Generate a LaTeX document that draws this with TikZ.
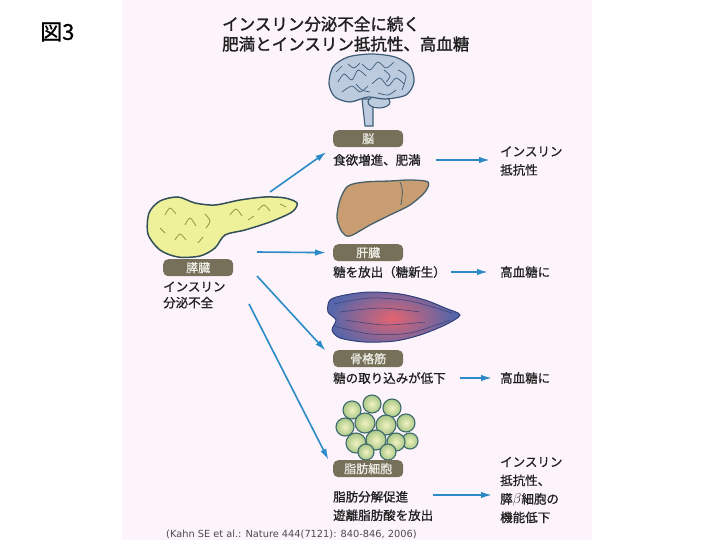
\documentclass[tikz,border=0pt]{standalone}
\usepackage{fontspec}
\setmainfont{Noto Sans CJK JP}
\newfontfamily\jpmed{Noto Sans CJK JP}[FakeBold=0.8]
\newfontfamily\jpbold{Noto Sans CJK JP}[FakeBold=1.6]
\newfontfamily\citefont{DejaVu Sans}
\usetikzlibrary{arrows.meta}
\definecolor{bgpink}{HTML}{FCF4FA}
\definecolor{boxgray}{HTML}{76705A}
\definecolor{boxtext}{HTML}{EEEEE6}
\definecolor{arrblue}{HTML}{2C8BC6}
\definecolor{ink}{HTML}{202020}
\definecolor{brainfill}{HTML}{BCCBDD}
\definecolor{brainline}{HTML}{3E5C7A}
\definecolor{pancfill}{HTML}{EEF09A}
\definecolor{pancline}{HTML}{33505A}
\definecolor{panctex}{HTML}{8E9A3A}
\definecolor{liverfill}{HTML}{C99D72}
\definecolor{liverline}{HTML}{46606A}
\definecolor{mblue}{HTML}{5566AA}
\definecolor{mred}{HTML}{E46470}
\definecolor{mline}{HTML}{33407A}
\definecolor{fatfill}{HTML}{A9C888}
\definecolor{fatlight}{HTML}{F2F2C0}
\definecolor{fatline}{HTML}{3E6A6E}
\begin{document}
\begin{tikzpicture}[x=1pt,y=-1pt,
    organ/.style={fill=boxgray, text=boxtext, rounded corners=5pt, minimum width=70pt,
      minimum height=17pt, inner sep=0pt, anchor=north west, font=\jpmed\fontsize{12}{12}\selectfont},
    txt/.style={anchor=west, inner sep=0pt, align=left, text=ink, font=\jpmed\fontsize{12.5}{18.5}\selectfont},
    arr/.style={draw=arrblue, line width=1.6pt, -{Latex[length=11pt,width=6.5pt]}}]
    \useasboundingbox (0,0) rectangle (720,540);
    \fill[bgpink] (122,0) rectangle (592,540);
    \node[anchor=west, inner sep=0pt, font=\jpmed\fontsize{22}{22}\selectfont] (fig) at (40,32) {図3};
    \node[txt, font=\jpbold\fontsize{16.5}{20}\selectfont] (title) at (222,34) {インスリン分泌不全に続く\\肥満とインスリン抵抗性、高血糖};
    % brain
    \filldraw[fill=brainfill, draw=brainline, line width=1.1pt] (362,99) -- (365,126) -- (373,126) -- (373,99) -- cycle;
    \filldraw[fill=brainfill, draw=brainline, line width=1.1pt] (379,102) ellipse (11 and 6);
    \filldraw[fill=brainfill, draw=brainline, line width=1.2pt] plot[smooth cycle] coordinates
      {(329,84) (333,67) (348,57) (372,54) (395,57) (410,66) (414,82) (406,95) (385,99) (368,97) (350,102) (335,97)};
    \foreach \g in {{(338,82)(344,74)(352,80)(358,70)(366,76)}, {(362,64)(370,70)(378,62)(386,68)(394,62)},
        {(372,84)(380,78)(388,86)(396,78)(404,84)}, {(342,92)(352,86)(360,92)(368,86)},
        {(398,70)(406,76)(402,90)}, {(378,93)(388,95)(396,90)}, {(348,64)(354,68)(360,63)},
        {(336,72)(342,66)}, {(356,84)(362,90)(370,92)}, {(384,70)(390,76)(386,82)}}
      \draw[brainline, line width=0.7pt] plot[smooth] coordinates \g;
    % pancreas
    \filldraw[fill=pancfill, draw=pancline, line width=1.5pt] plot[smooth cycle] coordinates
      {(149,213) (160,201) (178,197) (195,203) (215,205) (240,200) (265,197) (285,198) (297,203) (292,212)
       (270,222) (245,230) (225,235) (215,248) (200,256) (178,257) (160,250) (148,234)};
    \foreach \g in {{(165,215)(170,208)(176,214)}, {(185,225)(190,218)(196,226)}, {(230,215)(236,209)(242,216)},
        {(258,210)(264,205)(270,211)}, {(175,240)(180,234)(186,240)}, {(205,214)(210,221)(206,228)},
        {(280,204)(286,207)}, {(198,243)(203,237)}, {(160,228)(165,233)}, {(248,220)(254,216)}}
      \draw[panctex, line width=0.8pt] plot[smooth] coordinates \g;
    % liver
    \filldraw[fill=liverfill, draw=liverline, line width=1.3pt] plot[smooth cycle] coordinates
      {(340,200) (348,186) (365,182) (390,181) (410,180) (428,182) (425,192) (410,205) (390,215)
       (370,225) (350,236) (342,232) (337,218)};
    \draw[liverline, line width=0.8pt] (400,182) .. controls (403,190) .. (401,205);
    % muscle
    \begin{scope}
      \clip plot[smooth cycle] coordinates {(330,300) (345,295) (370,292) (400,294) (425,300) (445,308)
        (460,315) (445,325) (420,335) (395,341) (365,342) (340,338) (332,330) (336,320) (328,312)};
      \fill[mblue] (320,285) rectangle (470,350);
      \shade[inner color=mred, outer color=mblue] (392,318) ellipse (62 and 34);
    \end{scope}
    \draw[mline, line width=1pt] plot[smooth cycle] coordinates {(330,300) (345,295) (370,292) (400,294)
      (425,300) (445,308) (460,315) (445,325) (420,335) (395,341) (365,342) (340,338) (332,330) (336,320) (328,312)};
    \foreach \g in {{(334,304)(370,298)(410,301)(452,313)}, {(334,326)(370,334)(410,333)(450,320)},
        {(340,312)(380,308)(420,312)}, {(345,320)(385,325)(425,322)}}
      \draw[mline, line width=0.5pt] plot[smooth] coordinates \g;
    % fat cells
    \foreach \x/\y/\r in {372/404/9, 352/410/9, 392/408/9, 406/423/9, 345/427/9, 365/423/10, 386/425/10,
        410/441/8, 356/443/10, 376/440/10, 396/442/9, 366/452/8, 388/452/8}
      \shadedraw[inner color=fatlight, outer color=fatfill, draw=fatline, line width=1.1pt] (\x,\y) circle (\r);
    % labels
    \node[organ] (br) at (333,130) {脳};
    \node[organ] (lv) at (333,244) {肝臓};
    \node[organ] (ms) at (333,350) {骨格筋};
    \node[organ] (ft) at (333,460) {脂肪細胞};
    \node[organ] (pc) at (163,259) {膵臓};
    \node[txt, font=\jpmed\fontsize{12.5}{16}\selectfont] (pctxt) at (163,295) {インスリン\\分泌不全};
    \node[txt] (brtxt) at (333,160) {食欲増進、肥満};
    \node[txt] (lvtxt) at (333,272) {糖を放出（糖新生）};
    \node[txt] (mstxt) at (333,378) {糖の取り込みが低下};
    \node[txt] (fttxt) at (333,506) {脂肪分解促進\\遊離脂肪酸を放出};
    \node[txt] (brout) at (500,161) {インスリン\\抵抗性};
    \node[txt] (lvout) at (500,272) {高血糖に};
    \node[txt] (msout) at (500,378) {高血糖に};
    \node[txt] (ftout) at (500,490) {インスリン\\抵抗性、\\膵{\fontsize{15.5}{18.5}\selectfont$\beta$}細胞の\\機能低下};
    \node[anchor=west, inner sep=0pt, text=black!70, font=\citefont\fontsize{9.8}{10}\selectfont] (cite) at (166,534)
      {(Kahn SE et al.: Nature 444(7121): 840-846, 2006)};
    % arrows
    \coordinate (pa1) at (270,192);
    \coordinate (pa2) at (257,252);
    \coordinate (pa3) at (257,276);
    \coordinate (pa4) at (249,304);
    \coordinate (fa) at (433,495);
    \draw[arr, shorten >=8pt] (pa1) -- (br.south west);
    \draw[arr, shorten >=7pt] (pa2) -- (lv.west);
    \draw[arr, shorten >=11pt] (pa3) -- (ms.west);
    \draw[arr, shorten >=10pt] (pa4) -- (ft.west);
    \draw[arr, shorten <=15pt, shorten >=10pt] (brtxt.east) -- (brout.west |- brtxt.east);
    \draw[arr, shorten <=5pt, shorten >=12pt] (lvtxt.east) -- (lvout.west);
    \draw[arr, shorten <=14pt, shorten >=8pt] (mstxt.east) -- (msout.west);
    \draw[arr, shorten >=8pt] (fa) -- (fa -| ftout.west);
\end{tikzpicture}
\end{document}
